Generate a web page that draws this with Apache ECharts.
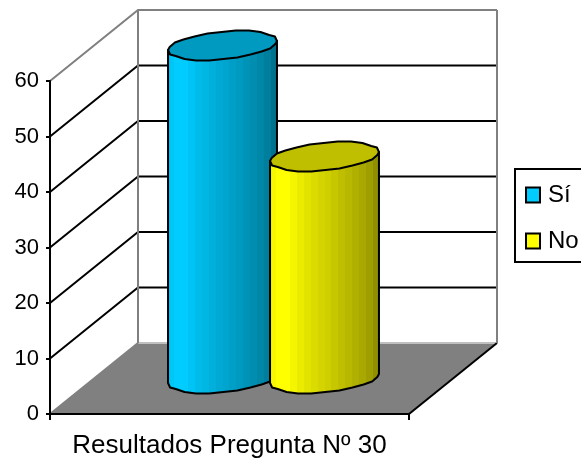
<!DOCTYPE html>
<html>
<head>
<meta charset="utf-8">
<style>html,body{margin:0;padding:0;background:#fff}#chart{width:581px;height:464px}</style>
<script src="https://cdn.jsdelivr.net/npm/echarts@6/dist/echarts.min.js"></script>
</head>
<body>
<div id="chart"></div>
<script>
// Survey result for question 30
const categories = ['Resultados Pregunta Nº 30'];
const seriesNames = ['Sí', 'No'];
const siValues = [60];
const noValues = [40];
const tickValues = [0, 10, 20, 30, 40, 50, 60];

const yMin = 0, yMax = 60, yStep = 10;

// Oblique projection of the chart box: screen shift from front plane to back wall
const DEPTH = [88, -71];
const BAR_OFFSET = 51;          // centre of each cylinder relative to the category centre
const RADIUS_X = 51.4;          // half width of a cylinder along the front plane
const DEPTH_RADIUS = 0.205;     // half depth of a cylinder, as a share of DEPTH
const RING_STEPS = 24;          // facets around a cylinder
const RING_SNAP = 1.5;          // slight vertical snapping that gives the rim its stepped look
const WALL_GREY = '#808080';

function shift(p, k) { return [p[0] + DEPTH[0] * k, p[1] + DEPTH[1] * k]; }

// Points of a cylinder's rim around its axis point c
function ring(c) {
  const vx = DEPTH[0] * DEPTH_RADIUS, vy = DEPTH[1] * DEPTH_RADIUS;
  const pts = [];
  for (let i = 0; i < RING_STEPS; i++) {
    const t = (i + 0.35) / RING_STEPS * Math.PI * 2;
    const dy = Math.sin(t) * vy;
    pts.push([c[0] + Math.cos(t) * RADIUS_X + Math.sin(t) * vx, c[1] + Math.round(dy / RING_SNAP) * RING_SNAP]);
  }
  return pts;
}

function tone(rgb, k) {
  return 'rgb(' + rgb.map(v => Math.round(v * k)).join(',') + ')';
}

// Stepped shading across the cylinder wall
function wallGradient(rgb) {
  const shades = [0.97, 1, 1, 0.96, 0.92, 0.89, 0.86, 0.83, 0.81, 0.78, 0.75, 0.72, 0.69, 0.66, 0.62, 0.56];
  const stops = [];
  shades.forEach((k, i) => {
    stops.push({ offset: i / shades.length, color: tone(rgb, k) });
    stops.push({ offset: (i + 1) / shades.length, color: tone(rgb, k) });
  });
  return new echarts.graphic.LinearGradient(0, 0, 1, 0, stops);
}

function renderFloorAndWalls(params, api) {
  const g = params.coordSys;
  const fl = [g.x, g.y + g.height], fr = [g.x + g.width, g.y + g.height];
  const bl = shift(fl, 1), br = shift(fr, 1);
  const line = (a, b, color, width) => ({
    type: 'line',
    shape: { x1: a[0], y1: a[1], x2: b[0], y2: b[1] },
    style: { stroke: color, lineWidth: width }
  });
  return {
    type: 'group',
    children: [
      { type: 'polygon', shape: { points: [fl, fr, br, bl] }, style: { fill: WALL_GREY } },
      line(bl, br, '#c0c0c0', 2),
      line(fr, br, '#000', 2),
      line(fl, bl, WALL_GREY, 2)
    ]
  };
}

function renderGridLine(params, api) {
  const v = api.value(0);
  const g = params.coordSys;
  if (v === yMin) return { type: 'group', children: [] };
  const front = [g.x, api.coord([0, v])[1]];
  const back = shift(front, 1);
  const end = [g.x + g.width + DEPTH[0], back[1]];
  const color = v === yMax ? WALL_GREY : '#000';
  return {
    type: 'polyline',
    shape: { points: [front, back, end] },
    style: { stroke: color, lineWidth: 2, fill: null }
  };
}

function renderWallEdges(params, api) {
  const g = params.coordSys;
  const top = shift([g.x, g.y], 1)[1], bottom = shift([g.x, g.y + g.height], 1)[1];
  const xl = g.x + DEPTH[0], xr = g.x + g.width + DEPTH[0];
  const edge = x => ({
    type: 'line',
    shape: { x1: x, y1: top, x2: x, y2: bottom },
    style: { stroke: WALL_GREY, lineWidth: 2 }
  });
  return { type: 'group', children: [edge(xl), edge(xr)] };
}

function cylinderRenderer(rgb, side) {
  return function (params, api) {
    const axisX = api.coord([api.value(0), 0])[0] + side * BAR_OFFSET;
    const base = shift([axisX, api.coord([0, yMin])[1]], 0.5);
    const head = shift([axisX, api.coord([0, api.value(1)])[1]], 0.5);
    const top = ring(head), bottom = ring(base);
    // Points where the rim reaches its far left and far right
    let li = 0, ri = 0;
    top.forEach((p, i) => { if (p[0] < top[li][0]) li = i; if (p[0] > top[ri][0]) ri = i; });
    // The visible lower arc runs from the right limit through the bottom to the left limit
    const arc = [];
    for (let i = ri; ; i = (i - 1 + RING_STEPS) % RING_STEPS) {
      arc.push(bottom[i]);
      if (i === li) break;
    }
    const outline = [top[li], top[ri]].concat(arc);
    return {
      type: 'group',
      children: [
        {
          type: 'polygon',
          shape: { points: outline },
          style: { fill: wallGradient(rgb), stroke: '#000', lineWidth: 2, lineJoin: 'round' }
        },
        {
          type: 'polygon',
          shape: { points: top },
          style: { fill: tone(rgb, 0.75), stroke: '#000', lineWidth: 2, lineJoin: 'round' }
        }
      ]
    };
  };
}

const chart = echarts.init(document.getElementById('chart'), null, { renderer: 'canvas' });
const FONT = '"Liberation Sans", Arial, sans-serif';

chart.setOption({
  animation: false,
  backgroundColor: '#fff',
  textStyle: { fontFamily: FONT },
  grid: { left: 50, top: 81, width: 359, height: 333 },
  legend: {
    data: seriesNames,
    orient: 'vertical',
    left: 515,
    top: 169,
    padding: [14, 20, 9, 10],
    itemWidth: 14,
    itemHeight: 15,
    itemGap: 22,
    icon: 'rect',
    borderColor: '#000',
    borderWidth: 2,
    itemStyle: { borderColor: '#000', borderWidth: 2 },
    textStyle: { fontSize: 24, color: '#000', fontFamily: FONT, padding: [0, 0, 0, 3] }
  },
  xAxis: {
    type: 'category',
    data: categories,
    z: 5,
    axisLine: { lineStyle: { color: '#000', width: 2 } },
    axisTick: { show: true, length: 6, lineStyle: { color: '#000', width: 2 } },
    axisLabel: { fontSize: 26, color: '#000', margin: 19, fontFamily: FONT }
  },
  yAxis: {
    type: 'value',
    min: yMin,
    max: yMax,
    interval: yStep,
    z: 5,
    splitLine: { show: false },
    axisLine: { show: true, lineStyle: { color: '#000', width: 2 } },
    axisTick: { show: true, length: 4, lineStyle: { color: '#000', width: 2 } },
    axisLabel: { fontSize: 22, color: '#000', margin: 11, fontFamily: FONT }
  },
  series: [
    { type: 'custom', name: 'floor', silent: true, clip: false, z: 1, data: [[0, 0]], renderItem: renderFloorAndWalls },
    { type: 'custom', name: 'grid', silent: true, clip: false, z: 2, data: tickValues.map(v => [v]), encode: { y: 0 }, renderItem: renderGridLine },
    { type: 'custom', name: 'edges', silent: true, clip: false, z: 3, data: [[0, 0]], renderItem: renderWallEdges },
    {
      type: 'custom', name: seriesNames[0], clip: false, z: 4,
      itemStyle: { color: '#00CCFF' },
      data: siValues.map((v, i) => [i, v]),
      encode: { x: 0, y: 1 },
      renderItem: cylinderRenderer([0, 204, 255], -1)
    },
    {
      type: 'custom', name: seriesNames[1], clip: false, z: 4,
      itemStyle: { color: '#FFFF00' },
      data: noValues.map((v, i) => [i, v]),
      encode: { x: 0, y: 1 },
      renderItem: cylinderRenderer([255, 255, 0], 1)
    }
  ]
});
</script>
</body>
</html>
